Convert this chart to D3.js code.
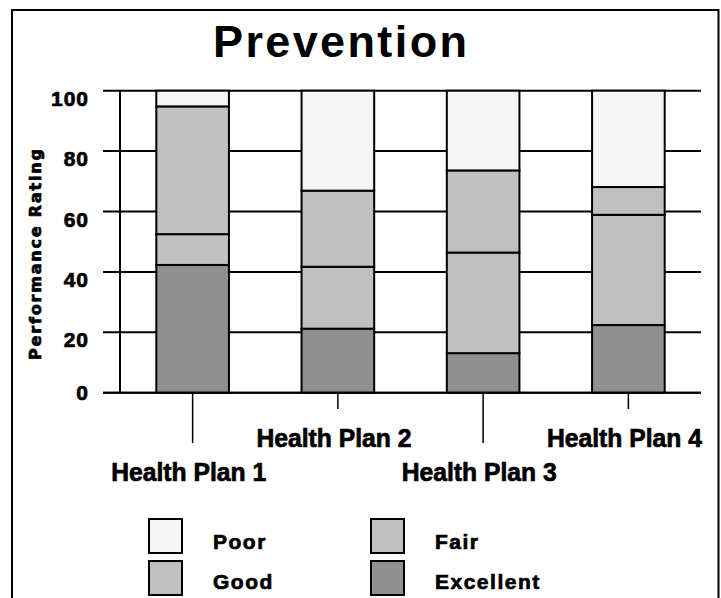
<!DOCTYPE html>
<html>
<head>
<meta charset="utf-8">
<script src="https://cdn.jsdelivr.net/npm/d3@7"></script>
<style>
  html, body { margin: 0; padding: 0; background: #fff; }
  svg { display: block; }
</style>
</head>
<body>
<svg id="chart" width="721" height="598"></svg>
<script>
const title = "Prevention";
const yTitle = "Performance Rating";
const categories = ["Health Plan 1", "Health Plan 2", "Health Plan 3", "Health Plan 4"];
const seriesNames = ["Excellent", "Good", "Fair", "Poor"];
const excellent = [42.3, 21.2, 13.1, 22.4];
const good = [10.2, 20.5, 33.3, 36.5];
const fair = [42.3, 25.2, 27.2, 9.2];
const poor = [5.2, 33.1, 26.4, 31.9];
const yTicks = [0, 20, 40, 60, 80, 100];
const legendOrder = ["Poor", "Fair", "Good", "Excellent"];
const colors = { Excellent: "#909090", Good: "#c0c0c0", Fair: "#c0c0c0", Poor: "#f5f5f5" };

const rows = categories.map((c, i) => ({
  category: c, Excellent: excellent[i], Good: good[i], Fair: fair[i], Poor: poor[i]
}));

const svg = d3.select("#chart");
const heavy = sel => sel.attr("stroke", "#000").attr("stroke-width", 0.7).attr("stroke-linejoin", "round");

// frame
svg.append("path")
  .attr("d", "M12,600 V10 H718.5 V600")
  .attr("fill", "none").attr("stroke", "#000").attr("stroke-width", 2);

// title
svg.append("text")
  .attr("x", 340).attr("y", 57)
  .attr("text-anchor", "middle")
  .attr("font-family", "'Liberation Sans', Arial, sans-serif")
  .attr("font-weight", "bold").attr("font-size", 45)
  .attr("textLength", 254).attr("lengthAdjust", "spacing")
  .text(title);

const x = d3.scaleBand().domain(categories).range([120, 701]).paddingInner(0.5).paddingOuter(0.25);
const y = d3.scaleLinear().domain([0, 100]).range([392.7, 90.7]);

// gridlines
svg.append("g").selectAll("line").data(yTicks).join("line")
  .attr("x1", 103).attr("x2", 701)
  .attr("y1", d => y(d)).attr("y2", d => y(d))
  .attr("stroke", "#000").attr("stroke-width", 2);

// y axis line
svg.append("line")
  .attr("x1", 120).attr("x2", 120).attr("y1", y(0)).attr("y2", y(100))
  .attr("stroke", "#000").attr("stroke-width", 2);

// y tick labels
svg.append("g").selectAll("text").data(yTicks).join("text")
  .attr("x", 89)
  .attr("y", d => Math.min(y(d) + 15, y(0) + 7.5))
  .attr("text-anchor", "end")
  .attr("font-family", "'Liberation Sans', Arial, sans-serif")
  .attr("font-weight", "bold").attr("font-size", 21)
  .attr("letter-spacing", 1)
  .call(heavy)
  .text(d => d);

// y title
svg.append("text")
  .attr("transform", "translate(41,254.5) rotate(-90)")
  .attr("text-anchor", "middle")
  .attr("font-family", "'DejaVu Sans', sans-serif")
  .attr("font-weight", "bold").attr("font-size", 16)
  .attr("textLength", 211).attr("lengthAdjust", "spacing")
  .call(heavy)
  .text(yTitle);

// stacked bars
const stack = d3.stack().keys(seriesNames);
const layers = stack(rows);
svg.append("g").selectAll("g").data(layers).join("g")
  .attr("fill", d => colors[d.key])
  .selectAll("rect").data(d => d).join("rect")
  .attr("x", d => x(d.data.category))
  .attr("width", x.bandwidth())
  .attr("y", d => y(d[1]))
  .attr("height", d => y(d[0]) - y(d[1]))
  .attr("stroke", "#000").attr("stroke-width", 2);

// x axis baseline
svg.append("line")
  .attr("x1", 103).attr("x2", 701).attr("y1", y(0)).attr("y2", y(0))
  .attr("stroke", "#000").attr("stroke-width", 2);

// x ticks (alternating length)
svg.append("g").selectAll("line").data(categories).join("line")
  .attr("x1", d => x(d) + x.bandwidth() / 2).attr("x2", d => x(d) + x.bandwidth() / 2)
  .attr("y1", y(0)).attr("y2", (d, i) => i % 2 === 0 ? 443 : 409)
  .attr("stroke", "#000").attr("stroke-width", 1.5);

// x labels
svg.append("g").selectAll("text").data(categories).join("text")
  .attr("x", d => x(d) + x.bandwidth() / 2 - 4)
  .attr("y", (d, i) => i % 2 === 0 ? 481 : 447)
  .attr("text-anchor", "middle")
  .attr("font-family", "'Liberation Sans', Arial, sans-serif")
  .attr("font-weight", "bold").attr("font-size", 25)
  .attr("textLength", 155).attr("lengthAdjust", "spacingAndGlyphs")
  .call(heavy)
  .text(d => d);

// legend
const legend = svg.append("g").selectAll("g").data(legendOrder).join("g")
  .attr("transform", (d, i) => `translate(${i % 2 === 0 ? 149 : 371},${Math.floor(i / 2) === 0 ? 519 : 561})`);
legend.append("rect")
  .attr("width", 33).attr("height", 34)
  .attr("fill", d => colors[d]).attr("stroke", "#000").attr("stroke-width", 2);
legend.append("text")
  .attr("x", 64).attr("y", (d, i) => Math.floor(i / 2) === 0 ? 30 : 28)
  .attr("font-family", "'Liberation Sans', Arial, sans-serif")
  .attr("font-weight", "bold").attr("font-size", 21)
  .attr("letter-spacing", 1.5)
  .call(heavy)
  .text(d => d);
</script>
</body>
</html>
